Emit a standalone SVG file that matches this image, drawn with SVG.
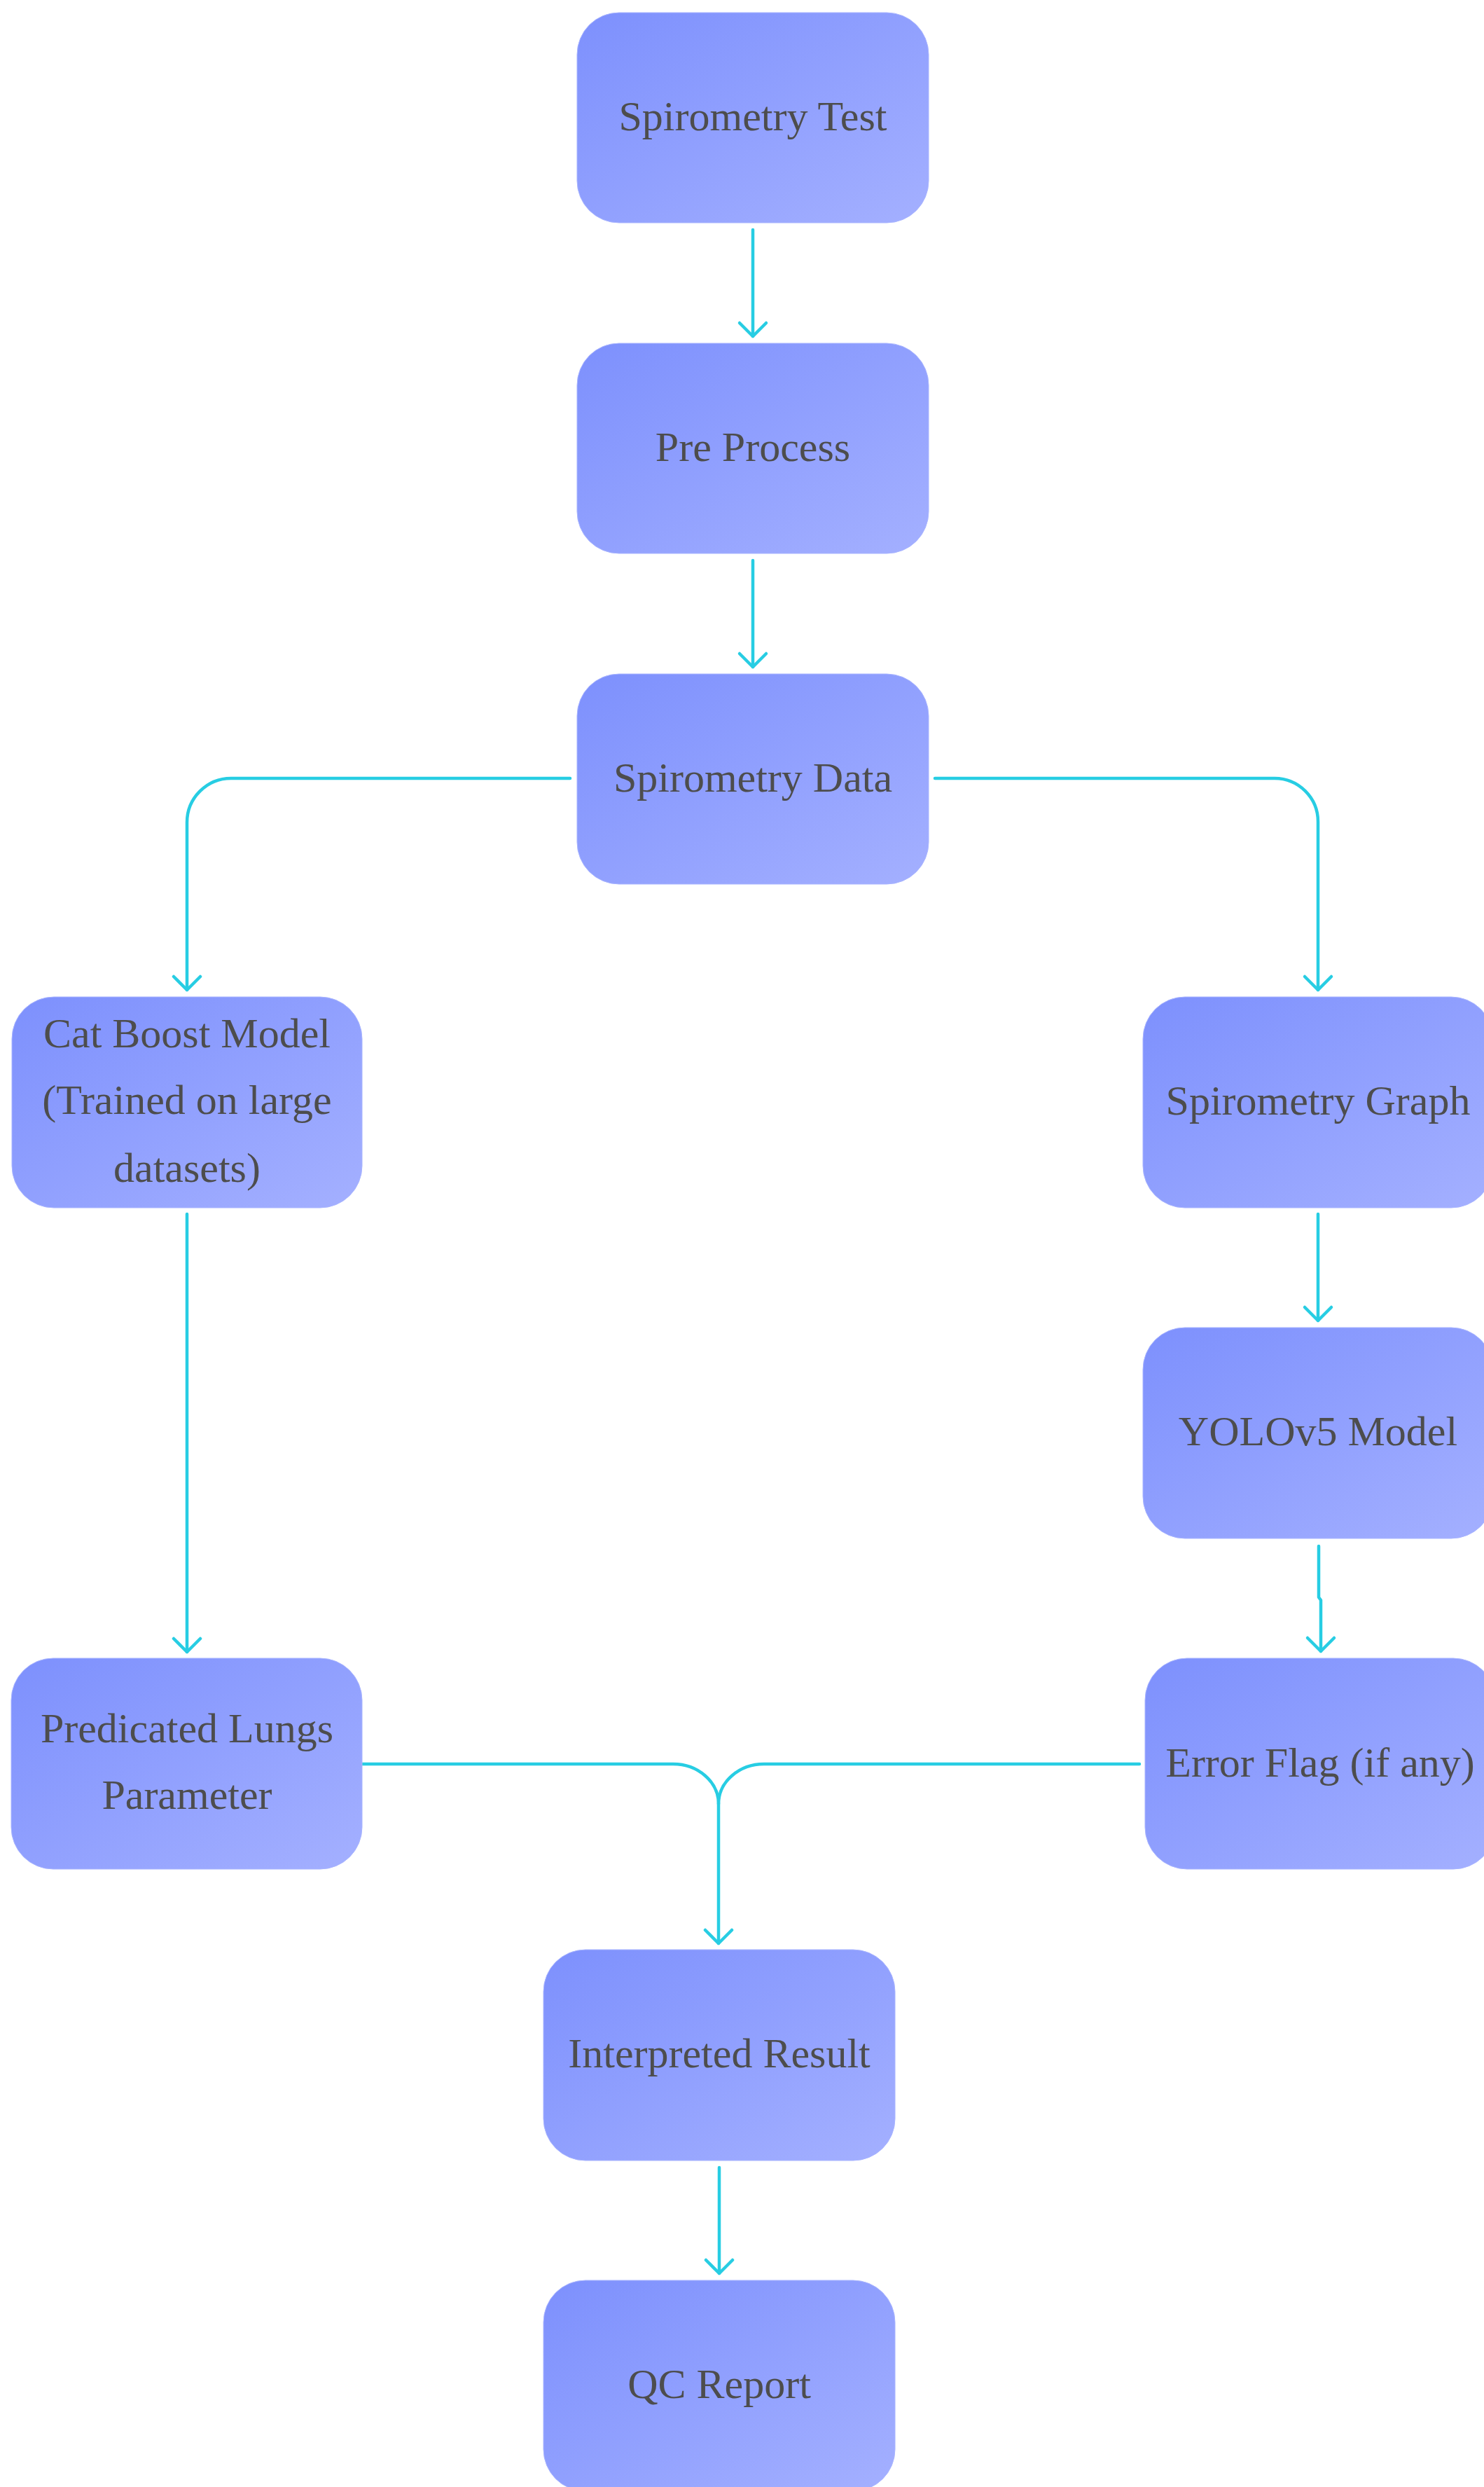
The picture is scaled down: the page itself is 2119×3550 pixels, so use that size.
<svg xmlns="http://www.w3.org/2000/svg" width="2119" height="3550" viewBox="0 0 2119 3550">
<defs>
<linearGradient id="g" x1="0" y1="0" x2="1" y2="1">
<stop offset="0" stop-color="#7D90FD"/>
<stop offset="1" stop-color="#A4B0FF"/>
</linearGradient>
<marker id="arr" markerUnits="userSpaceOnUse" markerWidth="50" markerHeight="50" refX="0" refY="0" orient="auto" overflow="visible">
<path d="M-19,-19 L0,0 L-19,19" fill="none" stroke="#27CDE3" stroke-width="4.5" stroke-linecap="round" stroke-linejoin="round"/>
</marker>
<style>
.box{fill:url(#g);stroke:#A9B5FF;stroke-width:1}
.t{font-family:"Liberation Serif","Times New Roman",serif;font-size:60px;fill:#4D4D4D;text-anchor:middle}
.c{fill:none;stroke:#27CDE3;stroke-width:4.5;stroke-linecap:round;stroke-linejoin:round;marker-end:url(#arr)}
.c2{fill:none;stroke:#27CDE3;stroke-width:4.5;stroke-linecap:round;stroke-linejoin:round}
</style>
</defs>
<rect width="2119" height="3550" fill="#FFFFFF"/>
<g id="connectors">
<path class="c" d="M1075 328 V480"/>
<path class="c" d="M1075 800 V952"/>
<path class="c" d="M814 1111 H330 A63 63 0 0 0 267 1174 V1413"/>
<path class="c" d="M1335 1111 H1820 A62 62 0 0 1 1882 1173 V1413"/>
<path class="c" d="M267 1733 V2358"/>
<path class="c" d="M1882 1733 V1885"/>
<path class="c" d="M1883 2207 V2280 L1886 2284 V2357"/>
<path class="c2" d="M1627 2518 H1091 A65 57 0 0 0 1026 2575"/>
<path class="c" d="M517 2518 H961 A65 57 0 0 1 1026 2575 V2774"/>
<path class="c" d="M1027 3094 V3245"/>
</g>
<g id="n1"><rect class="box" x="824" y="18" width="502" height="300" rx="60"/><text class="t" x="1075" y="186">Spirometry Test</text></g>
<g id="n2"><rect class="box" x="824" y="490" width="502" height="300" rx="60"/><text class="t" x="1075" y="658">Pre Process</text></g>
<g id="n3"><rect class="box" x="824" y="962" width="502" height="300" rx="60"/><text class="t" x="1075" y="1130">Spirometry Data</text></g>
<g id="n4"><rect class="box" x="17" y="1423" width="500" height="301" rx="60"/><text class="t" x="267" y="1495">Cat Boost Model</text><text class="t" x="267" y="1590">(Trained on large</text><text class="t" x="267" y="1687">datasets)</text></g>
<g id="n5"><rect class="box" x="1632" y="1423" width="500" height="301" rx="60"/><text class="t" x="1882" y="1591">Spirometry Graph</text></g>
<g id="n6"><rect class="box" x="1632" y="1895" width="500" height="301" rx="60"/><text class="t" x="1882" y="2063">YOLOv5 Model</text></g>
<g id="n7"><rect class="box" x="16" y="2367" width="501" height="301" rx="60"/><text class="t" x="267" y="2487">Predicated Lungs</text><text class="t" x="267" y="2582">Parameter</text></g>
<g id="n8"><rect class="box" x="1635" y="2367" width="500" height="301" rx="60"/><text class="t" x="1885" y="2536">Error Flag (if any)</text></g>
<g id="n9"><rect class="box" x="776" y="2783" width="502" height="301" rx="60"/><text class="t" x="1027" y="2951">Interpreted Result</text></g>
<g id="n10"><rect class="box" x="776" y="3255" width="502" height="301" rx="60"/><text class="t" x="1027" y="3423">QC Report</text></g>
</svg>
